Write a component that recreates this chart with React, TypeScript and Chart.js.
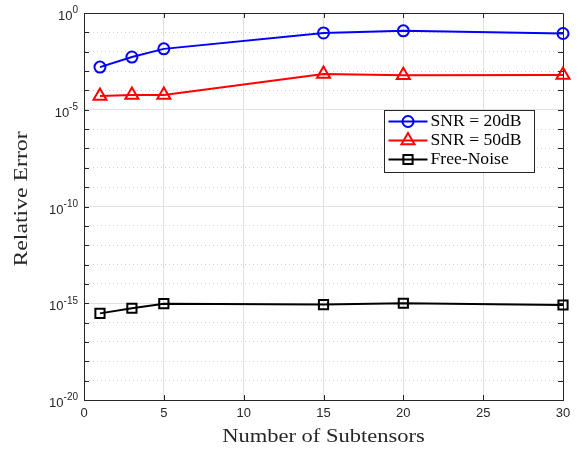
import React, { useEffect, useRef } from 'react';
import { Chart, registerables } from 'chart.js';

Chart.register(...registerables);

// Number of subtensors used in the decomposition
const subtensors = [1, 3, 5, 15, 20, 30];

// Relative reconstruction error per noise setting
const snr20Error = [1.6e-3, 5.3e-3, 1.4e-2, 9.3e-2, 1.2e-1, 8.7e-2];
const snr50Error = [5.1e-5, 5.8e-5, 5.8e-5, 7.0e-4, 6.0e-4, 6.3e-4];
const noiseFreeError = [3.0e-16, 5.5e-16, 9.5e-16, 8.5e-16, 1.0e-15, 8.1e-16];

const seriesLabels = ['SNR = 20dB', 'SNR = 50dB', 'Free-Noise'];
const seriesColors = ['#0000ff', '#ff0000', '#000000'];
const seriesMarkers = ['circle', 'triangle', 'rect'];
const seriesMarkerRadius = [5.5, 7.5, 6.5];

// Axis ticks
const xTickStep = 5;
const xMin = 0;
const xMax = 30;
const yDecades = [0, -1, -2, -3, -4, -5, -6, -7, -8, -9, -10, -11, -12, -13, -14, -15, -16, -17, -18, -19, -20];
const yLabelExponents = [0, -5, -10, -15, -20];

const xTitle = 'Number of Subtensors';
const yTitle = 'Relative Error';

const AXIS_COLOR = '#262626';
const MAJOR_GRID = '#e1e1e1';
const MINOR_GRID = '#cfcfcf';
const SERIF = '"Liberation Serif", "Times New Roman", serif';
const SANS = '"Liberation Sans", Arial, Helvetica, sans-serif';

function isMajorExp(v: number) {
  const e = Math.round(Math.log10(v));
  return e % 5 === 0;
}

// Draw text stretched horizontally around an anchor
function wideText(
  ctx: CanvasRenderingContext2D,
  text: string,
  x: number,
  y: number,
  font: string,
  sx: number,
  align: 'left' | 'center'
) {
  ctx.save();
  ctx.font = font;
  ctx.textAlign = 'left';
  ctx.textBaseline = 'middle';
  const w = ctx.measureText(text).width * sx;
  const x0 = align === 'center' ? x - w / 2 : x;
  ctx.translate(x0, y);
  ctx.scale(sx, 1);
  ctx.fillText(text, 0, 0);
  ctx.restore();
}

function drawMarker(ctx: CanvasRenderingContext2D, style: string, x: number, y: number, r: number) {
  ctx.beginPath();
  if (style === 'circle') {
    ctx.arc(x, y, r, 0, Math.PI * 2);
  } else if (style === 'triangle') {
    let rad = 0;
    ctx.moveTo(x + Math.sin(rad) * r, y - Math.cos(rad) * r);
    rad += (2 * Math.PI) / 3;
    ctx.lineTo(x + Math.sin(rad) * r, y - Math.cos(rad) * r);
    rad += (2 * Math.PI) / 3;
    ctx.lineTo(x + Math.sin(rad) * r, y - Math.cos(rad) * r);
    ctx.closePath();
  } else {
    const s = Math.SQRT1_2 * r;
    ctx.rect(x - s, y - s, 2 * s, 2 * s);
  }
  ctx.stroke();
}

const boxedAxesPlugin = {
  id: 'boxedAxes',
  beforeDatasetsDraw(chart: any) {
    const { ctx, chartArea } = chart;
    const xs = chart.scales.x;
    const ys = chart.scales.y;
    const { left, right, top, bottom } = chartArea;
    ctx.save();
    ctx.strokeStyle = AXIS_COLOR;
    ctx.lineWidth = 1;
    ctx.beginPath();
    // top and right edges of the box
    ctx.moveTo(left, top + 0.5);
    ctx.lineTo(right + 0.5, top + 0.5);
    ctx.lineTo(right + 0.5, bottom);
    // inward ticks on x
    for (let v = xMin + xTickStep; v < xMax; v += xTickStep) {
      const px = Math.round(xs.getPixelForValue(v)) + 0.5;
      ctx.moveTo(px, bottom);
      ctx.lineTo(px, bottom - 5);
      ctx.moveTo(px, top);
      ctx.lineTo(px, top + 5);
    }
    // inward ticks on y, one per decade
    for (const e of yDecades) {
      if (e === 0 || e === -20) continue;
      const py = Math.round(ys.getPixelForValue(Math.pow(10, e))) + 0.5;
      ctx.moveTo(left, py);
      ctx.lineTo(left + 5, py);
      ctx.moveTo(right, py);
      ctx.lineTo(right - 5, py);
    }
    ctx.stroke();
    ctx.restore();
  },
  afterDraw(chart: any) {
    const { ctx, chartArea } = chart;
    const ys = chart.scales.y;
    ctx.save();
    ctx.fillStyle = AXIS_COLOR;

    // y tick labels as 10 with a raised exponent
    const labelRight = chartArea.left - 6;
    for (const e of yLabelExponents) {
      const py = ys.getPixelForValue(Math.pow(10, e));
      const exp = String(e);
      ctx.font = `10px ${SANS}`;
      const ew = ctx.measureText(exp).width;
      ctx.textBaseline = 'middle';
      ctx.textAlign = 'left';
      ctx.fillText(exp, labelRight - ew, py - 2.5);
      ctx.font = `13px ${SANS}`;
      ctx.textAlign = 'right';
      ctx.fillText('10', labelRight - ew, py + 3.5);
    }

    // axis titles
    wideText(ctx, xTitle, (chartArea.left + chartArea.right) / 2, 437, `18px ${SERIF}`, 1.25, 'center');
    ctx.save();
    ctx.translate(22, 199);
    ctx.rotate(-Math.PI / 2);
    wideText(ctx, yTitle, 0, 0, `19px ${SERIF}`, 1.25, 'center');
    ctx.restore();

    // legend
    const lx = 384.5;
    const ly = 110.5;
    const lw = 150;
    const lh = 62;
    ctx.fillStyle = '#ffffff';
    ctx.fillRect(lx, ly, lw, lh);
    ctx.strokeStyle = AXIS_COLOR;
    ctx.lineWidth = 1;
    ctx.strokeRect(lx, ly, lw, lh);
    chart.data.datasets.forEach((ds: any, i: number) => {
      const ry = ly + 11 + i * 19;
      ctx.strokeStyle = ds.borderColor;
      ctx.lineWidth = 2;
      ctx.beginPath();
      ctx.moveTo(lx + 4, ry);
      ctx.lineTo(lx + 43, ry);
      ctx.stroke();
      drawMarker(ctx, ds.pointStyle, lx + 23.5, ry, ds.pointRadius);
      ctx.fillStyle = '#000000';
      wideText(ctx, ds.label, lx + 46, ry + 0.5, `16px ${SERIF}`, 1.1, 'left');
    });
    ctx.restore();
  },
};

function ErrorChart() {
  const canvasRef = useRef<HTMLCanvasElement | null>(null);

  useEffect(() => {
    const canvas = canvasRef.current;
    if (!canvas) return;
    const seriesValues = [snr20Error, snr50Error, noiseFreeError];
    const chart = new Chart(canvas, {
      type: 'line',
      data: {
        datasets: seriesValues.map((vals, i) => ({
          label: seriesLabels[i],
          data: subtensors.map((x, j) => ({ x, y: vals[j] })),
          borderColor: seriesColors[i],
          backgroundColor: 'transparent',
          borderWidth: 2,
          pointStyle: seriesMarkers[i] as any,
          pointRadius: seriesMarkerRadius[i],
          pointBorderWidth: 2,
          pointBorderColor: seriesColors[i],
          pointBackgroundColor: 'transparent',
          tension: 0,
          clip: false as any,
        })),
      },
      options: {
        animation: false,
        responsive: false,
        maintainAspectRatio: false,
        events: [],
        layout: { padding: { left: 0, right: 21, top: 13, bottom: 0 } },
        plugins: {
          legend: { display: false },
          tooltip: { enabled: false },
        },
        scales: {
          x: {
            type: 'linear',
            min: xMin,
            max: xMax,
            ticks: {
              stepSize: xTickStep,
              color: AXIS_COLOR,
              font: { family: SANS, size: 13 },
              padding: 6,
              maxRotation: 0,
            },
            grid: {
              drawTicks: false,
              color: (c: any) =>
                c.tick && (c.tick.value === xMin || c.tick.value === xMax) ? 'rgba(0,0,0,0)' : MAJOR_GRID,
              lineWidth: 1,
            },
            border: { display: true, color: AXIS_COLOR, width: 1 },
            afterFit: (scale: any) => {
              scale.height = 51;
            },
          },
          y: {
            type: 'logarithmic',
            min: 1e-20,
            max: 1,
            afterBuildTicks: (scale: any) => {
              scale.ticks = yDecades.map((e) => ({ value: Math.pow(10, e), major: e % 5 === 0 }));
            },
            ticks: { display: false },
            grid: {
              drawTicks: false,
              color: (c: any) => {
                if (!c.tick) return MAJOR_GRID;
                const e = Math.round(Math.log10(c.tick.value));
                if (e === 0 || e === -20) return 'rgba(0,0,0,0)';
                return isMajorExp(c.tick.value) ? MAJOR_GRID : MINOR_GRID;
              },
              lineWidth: 1,
            },
            border: {
              display: true,
              color: AXIS_COLOR,
              width: 1,
              dash: (c: any) => (c.tick && !isMajorExp(c.tick.value) ? [1, 3] : []),
            },
            afterFit: (scale: any) => {
              scale.width = 84;
            },
          },
        },
      },
      plugins: [boxedAxesPlugin],
    });
    return () => chart.destroy();
  }, []);

  return (
    <div style={{ position: 'absolute', left: 0, top: 0, width: 584, height: 451, background: '#ffffff' }}>
      <canvas ref={canvasRef} width={584} height={451} />
    </div>
  );
}

export default function App() {
  return <ErrorChart />;
}
